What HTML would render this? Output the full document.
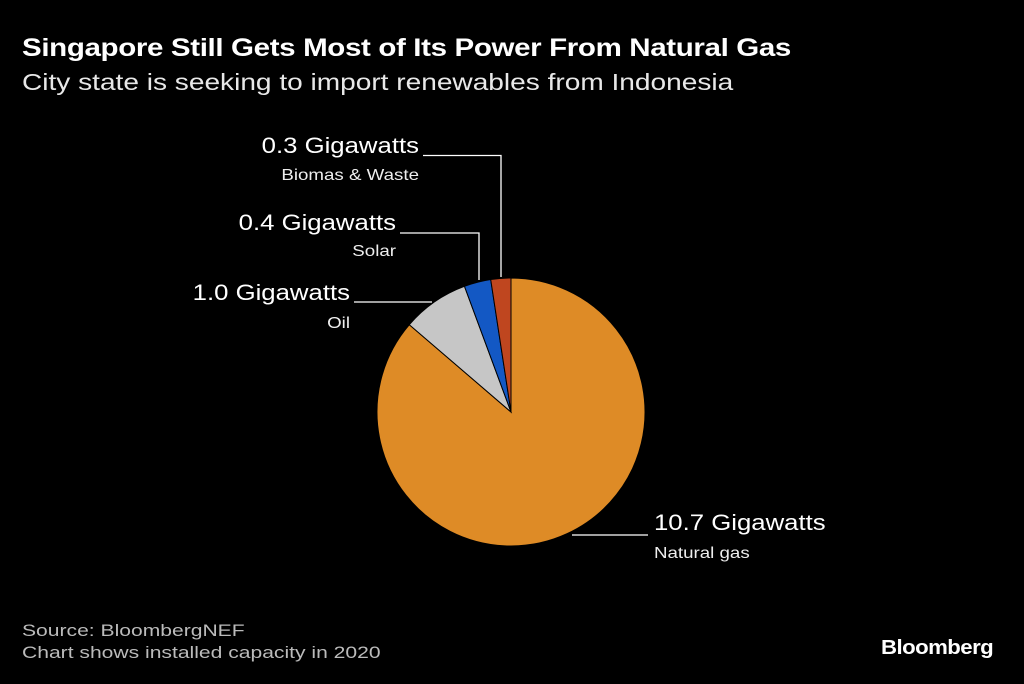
<!DOCTYPE html>
<html><head><meta charset="utf-8"><style>
body{margin:0;background:#000;width:1024px;height:684px;overflow:hidden;font-family:"Liberation Sans",sans-serif;color:#fff}
.t{position:absolute;white-space:nowrap;transform-origin:0 0}
</style></head><body>
<div class="t" style="left:22px;top:34px;font-size:25px;font-weight:bold;letter-spacing:-0.3px;transform:scaleX(1.18)">Singapore Still Gets Most of Its Power From Natural Gas</div>
<div class="t" style="left:22px;top:69px;font-size:23px;color:#e8e8e8;transform:scaleX(1.22)">City state is seeking to import renewables from Indonesia</div>
<svg id="c" width="1024" height="684" style="position:absolute;left:0;top:0"></svg>
<div class="t" style="left:22px;top:620px;font-size:17px;color:#bbb;line-height:22px;transform:scaleX(1.24)">Source: BloombergNEF<br>Chart shows installed capacity in 2020</div>
<div class="t" style="left:881px;top:637px;font-size:20px;font-weight:bold;letter-spacing:-0.5px;transform:scaleX(1.11)">Bloomberg</div>
<script>
const categories=["Natural gas","Oil","Solar","Biomas & Waste"];
const values=[10.7,1.0,0.4,0.3];
const valueLabels=["10.7 Gigawatts","1.0 Gigawatts","0.4 Gigawatts","0.3 Gigawatts"];
const colors=["#de8b26","#c6c6c6","#1358c4","#bf461f"];
const svg=document.getElementById('c');const NS="http://www.w3.org/2000/svg";
const cx=511,cy=412,r=134;
const total=values.reduce((a,b)=>a+b,0);
function pt(a,rr){return [cx+rr*Math.sin(a),cy-rr*Math.cos(a)];}
let a0=0;
values.forEach((v,i)=>{
 const a1=a0+v/total*2*Math.PI;
 const p0=pt(a0,r),p1=pt(a1,r);
 const p=document.createElementNS(NS,'path');
 p.setAttribute('d',`M${cx},${cy}L${p0[0]},${p0[1]}A${r},${r} 0 ${a1-a0>Math.PI?1:0} 1 ${p1[0]},${p1[1]}Z`);
 p.setAttribute('fill',colors[i]);p.setAttribute('stroke','#000');p.setAttribute('stroke-width','1');
 
 
 svg.appendChild(p);a0=a1;
});
const lay=[
 {line:"M572,535H648",lx:654,ly:530,sx:654,sy:558,anchor:"start"},
 {line:"M354,302H432",lx:350,ly:300,sx:350,sy:328,anchor:"end"},
 {line:"M400,233H479V280",lx:396,ly:230,sx:396,sy:256,anchor:"end"},
 {line:"M423,155.5H501V277",lx:419,ly:153,sx:419,sy:180,anchor:"end"}
];
function addText(x,y,size,fill,anchor,txt,name){
 const g=document.createElementNS(NS,'g');
 g.setAttribute('transform',`translate(${x},${y}) scale(1.17,1)`);
 const t=document.createElementNS(NS,'text');
 t.setAttribute('x',0);t.setAttribute('y',0);t.setAttribute('fill',fill);t.setAttribute('font-size',size);t.setAttribute('text-anchor',anchor);t.setAttribute('font-family','Liberation Sans, sans-serif');
 t.textContent=txt;
 
 
 g.appendChild(t);svg.appendChild(g);
}
lay.forEach((L,i)=>{
 const l=document.createElementNS(NS,'path');
 l.setAttribute('d',L.line);l.setAttribute('stroke','#fff');l.setAttribute('fill','none');l.setAttribute('stroke-width','1.3');
 
 
 svg.appendChild(l);
 addText(L.lx,L.ly,22,'#fff',L.anchor,valueLabels[i],'value-label');
 addText(L.sx,L.sy,16,'#eee',L.anchor,categories[i],'category-label');
});
</script>
</body></html>
